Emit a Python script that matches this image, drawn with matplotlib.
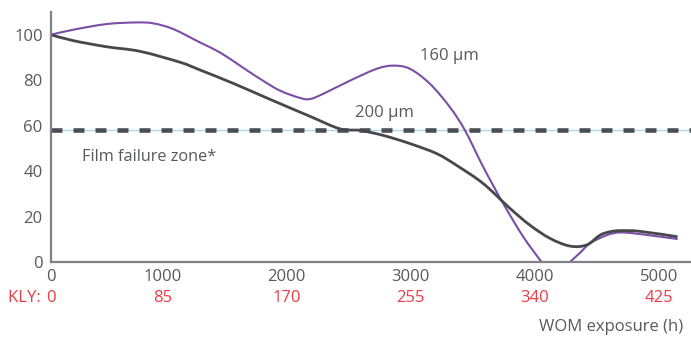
import matplotlib
matplotlib.use("Agg")
import matplotlib.pyplot as plt
import matplotlib.transforms as mtransforms
from matplotlib.path import Path
from matplotlib.patches import PathPatch

plt.rcParams["font.family"] = ["Open Sans", "DejaVu Sans"]

# readings (hours, % retention)
x_160 = [105, 284, 553, 794, 928, 1089, 1304, 1465, 1626, 1787, 1948, 2109, 2189,
         2296, 2511, 2726, 2860, 2994, 3155, 3316, 3437, 3584, 3745, 3906, 4054,
         4110, 4168, 4225, 4282, 4362, 4443, 4577, 4684, 4845, 5148]
y_160 = [100, 102.2, 104.7, 105.4, 105.0, 102.5, 96.6, 92.2, 86.4, 80.6, 75.4, 72.2, 71.7,
         74.0, 79.8, 85.0, 86.4, 85.0, 78.4, 68.1, 57.9, 41.8, 25.7, 11.1, 0,
         -3.2, -4.3, -3.2, 0, 4.0, 8.2, 11.8, 13.0, 12.3, 10.1]

x_200 = [105, 284, 553, 821, 1143, 1304, 1572, 1841, 2189, 2430, 2592, 2779, 2994,
         3209, 3370, 3584, 3799, 3960, 4121, 4282, 4416, 4523, 4604, 4684, 4845, 5148]
y_200 = [100, 97.4, 94.7, 92.7, 87.9, 84.5, 78.6, 72.2, 64.1, 58.6, 57.9, 55.7, 52.1,
         47.7, 42.5, 34.5, 23.6, 16.2, 10.4, 7.0, 7.5, 11.8, 13.3, 13.8, 13.5, 11.1]

failure_level = 57.9

x_ticks = [105, 1000, 2000, 3000, 4000, 5000]
x_labels = ["0", "1000", "2000", "3000", "4000", "5000"]
kly_labels = ["0", "85", "170", "255", "340", "425"]
y_ticks = [0, 20, 40, 60, 80, 100]

gray_txt = "#58595b"
red = "#ee3b45"
purple = "#7a4ea6"
dark = "#47484c"
fs = 12


def smooth_path(xs, ys):
    # Catmull-Rom through the read points, drawn as cubic Bezier segments
    verts = [(xs[0], ys[0])]
    codes = [Path.MOVETO]
    n = len(xs)
    for i in range(n - 1):
        x0, y0 = (xs[i - 1], ys[i - 1]) if i > 0 else (xs[i], ys[i])
        x1, y1 = xs[i], ys[i]
        x2, y2 = xs[i + 1], ys[i + 1]
        x3, y3 = (xs[i + 2], ys[i + 2]) if i + 2 < n else (x2, y2)
        c1 = (x1 + (x2 - x0) / 6, y1 + (y2 - y0) / 6)
        c2 = (x2 - (x3 - x1) / 6, y2 - (y3 - y1) / 6)
        verts += [c1, c2, (x2, y2)]
        codes += [Path.CURVE4] * 3
    return Path(verts, codes)


fig = plt.figure(figsize=(6.91, 3.40), dpi=100)
ax = fig.add_axes([51 / 691, 78 / 340, 640 / 691, 250 / 340])

ax.axhline(failure_level, color="#aad9ec", lw=1.0, zorder=1)
ax.axhline(failure_level, color="#4b4e53", lw=3.3, linestyle=(0, (2.4, 2.4)),
           zorder=2)

ax.add_patch(PathPatch(smooth_path(x_160, y_160), facecolor="none",
                       edgecolor=purple, lw=1.5, zorder=3))
ax.add_patch(PathPatch(smooth_path(x_200, y_200), facecolor="none",
                       edgecolor=dark, lw=2.0, zorder=4))

ax.set_xlim(105, 5256)
ax.set_ylim(0, 110)

for s in ["top", "right"]:
    ax.spines[s].set_visible(False)
for s in ["left", "bottom"]:
    ax.spines[s].set_color("#808285")
    ax.spines[s].set_linewidth(1.6)
    ax.spines[s].set_zorder(5)

ax.set_yticks(y_ticks)
ax.set_yticklabels([str(v) for v in y_ticks])
ax.set_xticks(x_ticks)
ax.set_xticklabels(x_labels)
ax.tick_params(axis="both", length=0, labelsize=fs, colors=gray_txt)
ax.tick_params(axis="x", pad=5)
ax.tick_params(axis="y", pad=6)

trans = mtransforms.blended_transform_factory(ax.transData, ax.transAxes)
for xp, lab in zip(x_ticks, kly_labels):
    ax.text(xp, -0.145, lab, transform=trans, ha="center", va="center",
            fontsize=fs, color=red)
ax.annotate("KLY: ", xy=(x_ticks[0], -0.145), xycoords=trans,
            xytext=(-4, 0), textcoords="offset points",
            ha="right", va="center", fontsize=fs, color=red)

ax.text(354, 46, "Film failure zone*", ha="left", va="center",
        fontsize=fs - 0.3, color=gray_txt)
ax.text(3074, 90.8, "160 µm", ha="left", va="center", fontsize=fs, color=gray_txt)
ax.text(2551, 65.4, "200 µm", ha="left", va="center", fontsize=fs, color=gray_txt)

fig.text(683 / 691, 1 - 327 / 340, "WOM exposure (h)", ha="right", va="center",
         fontsize=fs, color=gray_txt)

fig.savefig("out.png", dpi=100)
